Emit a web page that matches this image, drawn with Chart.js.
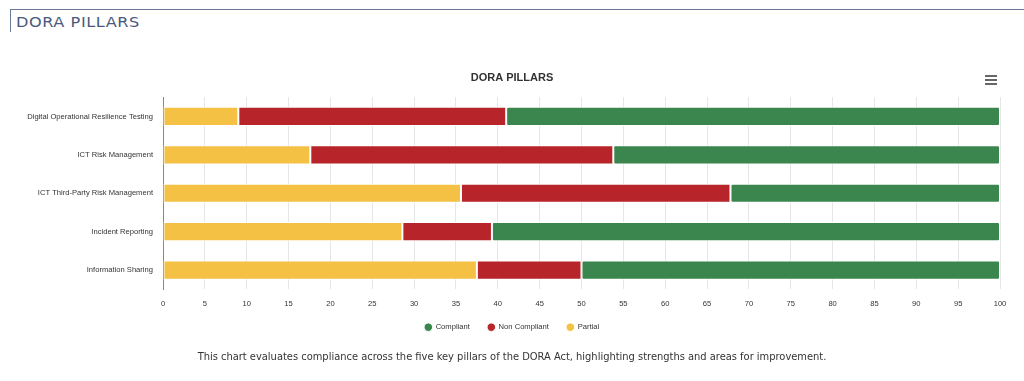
<!DOCTYPE html>
<html>
<head>
<meta charset="utf-8">
<script src="https://cdn.jsdelivr.net/npm/chart.js@4/dist/chart.umd.min.js"></script>
<style>
  html, body { margin: 0; padding: 0; background: #fff; }
  body { width: 1024px; height: 381px; position: relative; overflow: hidden; }
  .header {
    position: absolute; left: 10px; top: 9px; right: 0; height: 23px;
    border-top: 1px solid #6b7a96; border-left: 1px solid #6b7a96;
    box-sizing: border-box;
  }
  .header span {
    position: absolute; left: 5px; top: 1px; line-height: 23px;
    font-family: "DejaVu Sans", sans-serif; font-size: 14px; letter-spacing: 0.5px;
    color: #4a5a7a; transform: scaleX(1.15); transform-origin: left center; white-space: nowrap;
  }
  #wrap { position: absolute; left: 0; top: 60px; width: 1024px; height: 294px; }
  .menu { position: absolute; left: 985px; top: 75px; width: 12px; }
  .menu div { height: 2px; background: #666; margin-bottom: 2px; }
  .caption {
    position: absolute; left: 0; width: 1024px; top: 350px; text-align: center;
    font-family: "DejaVu Sans Condensed", "DejaVu Sans", sans-serif; font-size: 11px; color: #333;
  }
</style>
</head>
<body>
<div class="header"><span>DORA PILLARS</span></div>
<div id="wrap"><canvas id="myChart"></canvas></div>
<div class="menu"><div></div><div></div><div></div></div>
<div class="caption">This chart evaluates compliance across the five key pillars of the DORA Act, highlighting strengths and areas for improvement.</div>
<script>
// --------------------
// Data
// --------------------
const pillars = [
  "Digital Operational Resilience Testing",
  "ICT Risk Management",
  "ICT Third-Party Risk Management",
  "Incident Reporting",
  "Information Sharing"
];
const partial = [9, 17.6, 35.6, 28.6, 37.5];
const nonCompliant = [32, 36.2, 32.2, 10.7, 12.5];
const compliant = [59, 46.2, 32.2, 60.7, 50];
const xTicks = [0, 5, 10, 15, 20, 25, 30, 35, 40, 45, 50, 55, 60, 65, 70, 75, 80, 85, 90, 95, 100];

const colorMap = {
  compliant: "#3a864e",
  nonCompliant: "#b7242a",
  partial: "#f4c145"
};

const tickFont = { family: "Helvetica, 'Liberation Sans', Arial, sans-serif", size: 7.6 };

// stacked left to right: partial, non compliant, compliant
const datasets = [
  { label: "Partial", data: partial, backgroundColor: colorMap.partial },
  { label: "Non Compliant", data: nonCompliant, backgroundColor: colorMap.nonCompliant },
  { label: "Compliant", data: compliant, backgroundColor: colorMap.compliant, borderRadius: 2 }
].map(d => Object.assign({
  borderColor: "#ffffff",
  borderWidth: 1,
  borderSkipped: false,
  categoryPercentage: 1,
  barPercentage: 0.5
}, d));

// pull the legend a bit closer to the axis labels
const legendShift = {
  id: "legendShift",
  afterLayout(chart) {
    chart.legend.top -= 13;
    chart.legend.bottom -= 13;
  }
};

const ctx = document.getElementById("myChart").getContext("2d");

new Chart(ctx, {
  type: "bar",
  data: { labels: pillars, datasets: datasets },
  plugins: [legendShift],
  options: {
    indexAxis: "y",
    responsive: true,
    maintainAspectRatio: false,
    animation: false,
    layout: { padding: { left: 24, right: 24, top: 0, bottom: 0 } },
    scales: {
      x: {
        stacked: true,
        min: 0,
        max: 100,
        afterBuildTicks: s => { s.ticks = xTicks.map(v => ({ value: v })); },
        grid: { color: "#e6e6e6", drawTicks: false },
        border: { display: false },
        ticks: { font: tickFont, color: "#333", padding: 10, maxRotation: 0, autoSkip: false }
      },
      y: {
        stacked: true,
        afterFit: s => { s.width = 139; },
        grid: { display: false, drawTicks: false },
        border: { color: "#888", width: 1 },
        ticks: { font: tickFont, color: "#333", padding: 10 }
      }
    },
    plugins: {
      title: {
        display: true,
        text: "DORA PILLARS",
        color: "#333",
        font: { family: "Helvetica, 'Liberation Sans', Arial, sans-serif", size: 11, weight: "bold" },
        padding: { top: 11, bottom: 13 }
      },
      legend: {
        position: "bottom",
        maxHeight: 40,
        labels: {
          usePointStyle: true,
          pointStyle: "circle",
          boxWidth: 7,
          boxHeight: 6,
          padding: 18,
          color: "#333",
          font: tickFont,
          sort: (a, b) => b.datasetIndex - a.datasetIndex
        }
      },
      tooltip: { enabled: false }
    }
  }
});
</script>
</body>
</html>
